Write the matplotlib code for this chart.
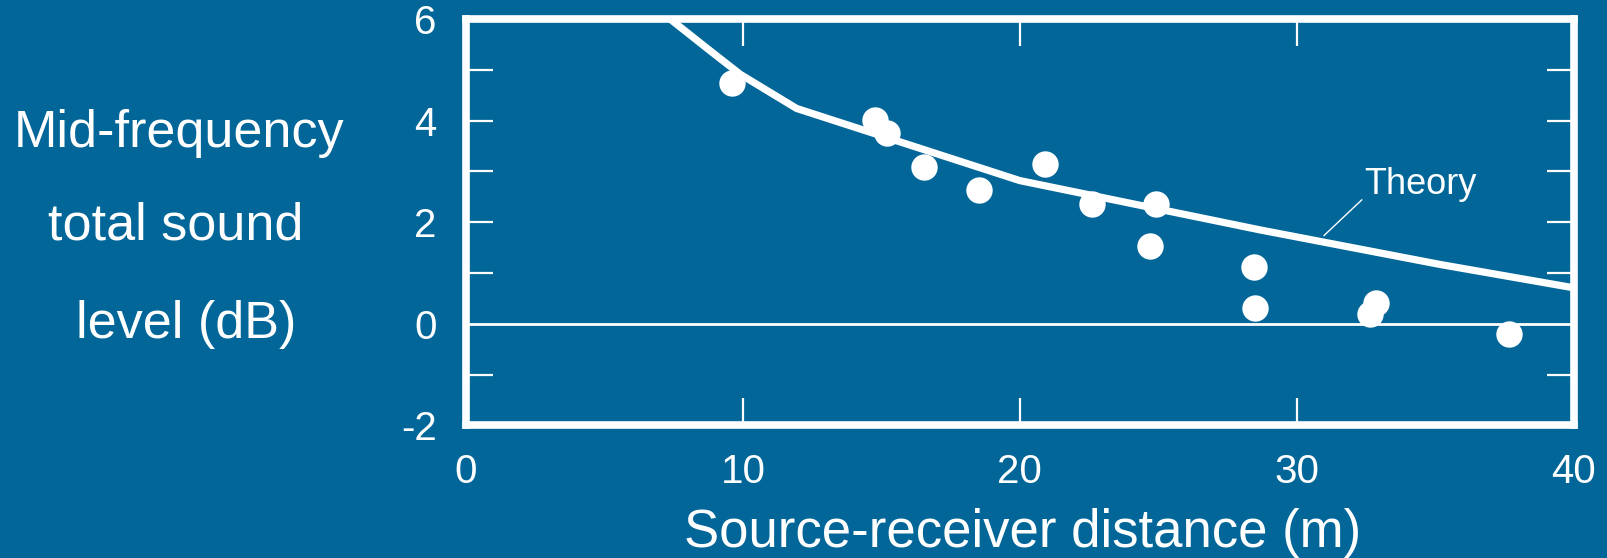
import matplotlib
matplotlib.use("Agg")
import matplotlib.pyplot as plt

# measured levels (dB) vs source-receiver distance (m)
distance = [9.61, 14.76, 15.21, 16.54, 18.54, 20.91, 22.61, 24.91, 24.69,
            28.47, 28.50, 32.65, 32.87, 37.65]
level = [4.75, 4.02, 3.76, 3.09, 2.64, 3.15, 2.35, 2.35, 1.54,
         1.11, 0.32, 0.20, 0.41, -0.20]

# theory curve
theory_x = [7.37, 8.69, 9.91, 11.94, 20.0, 28.67, 35.17, 40.0]
theory_y = [6.0, 5.43, 4.91, 4.24, 2.82, 1.85, 1.17, 0.71]

x_ticks = [0, 10, 20, 30, 40]
y_ticks = [-2, 0, 2, 4, 6]
y_minor = [-1, 1, 3, 5]
ylabel_lines = ["Mid-frequency", "total sound", "level (dB)"]

bg = "#026699"
fg = "white"
plt.rcParams["font.family"] = ["Liberation Sans", "DejaVu Sans"]

fig = plt.figure(figsize=(16.08, 5.58), dpi=100, facecolor=bg)
ax = fig.add_axes([0.2898, 0.2375, 0.9786 - 0.2898, 0.9659 - 0.2375])
ax.set_facecolor(bg)

ax.axhline(0, color=fg, lw=2.0, zorder=1)
ax.plot(theory_x, theory_y, color=fg, lw=5.2, solid_capstyle="butt",
        solid_joinstyle="round", zorder=2)
ax.plot(distance, level, "o", color=fg, markersize=19, markeredgewidth=0, zorder=3)

# label with leader line
ax.plot([30.99, 32.35], [1.74, 2.44], color=fg, lw=1.0)
ax.text(32.45, 2.55, "Theory", color=fg, fontsize=26, ha="left", va="baseline")

ax.set_xlim(0, 40)
ax.set_ylim(-2, 6)
ax.set_xticks(x_ticks)
ax.set_yticks(y_ticks)
ax.set_yticks(y_minor, minor=True)
ax.set_xticklabels([str(v) for v in x_ticks])
ax.set_yticklabels([str(v) for v in y_ticks])

for s in ax.spines.values():
    s.set_color(fg)
    s.set_linewidth(5.5)
    s.set_capstyle("projecting")

ax.tick_params(axis="both", which="both", direction="in", color=fg,
               labelcolor=fg, width=1.6, length=19.5,
               top=True, right=True, labelsize=29)
ax.tick_params(axis="y", pad=21)
ax.tick_params(axis="x", pad=20)

# hide the end ticks that sit on the frame
for t in ax.xaxis.get_major_ticks():
    if t.get_loc() in (0, 40):
        t.tick1line.set_visible(False)
        t.tick2line.set_visible(False)
for t in ax.yaxis.get_major_ticks():
    if t.get_loc() in (-2, 6, 0):
        t.tick1line.set_visible(False)
        t.tick2line.set_visible(False)

fig.text(1023 / 1608, 1 - 547 / 558, "Source-receiver distance (m)",
         color=fg, fontsize=38, ha="center", va="baseline")

line_x = [179, 176, 186]
baselines = [146.7, 239.3, 338.3]
for line, xc, yb in zip(ylabel_lines, line_x, baselines):
    fig.text(xc / 1608, 1 - yb / 558, line, color=fg, fontsize=37.5,
             ha="center", va="baseline")

fig.savefig("out.png", dpi=100, facecolor=bg)
